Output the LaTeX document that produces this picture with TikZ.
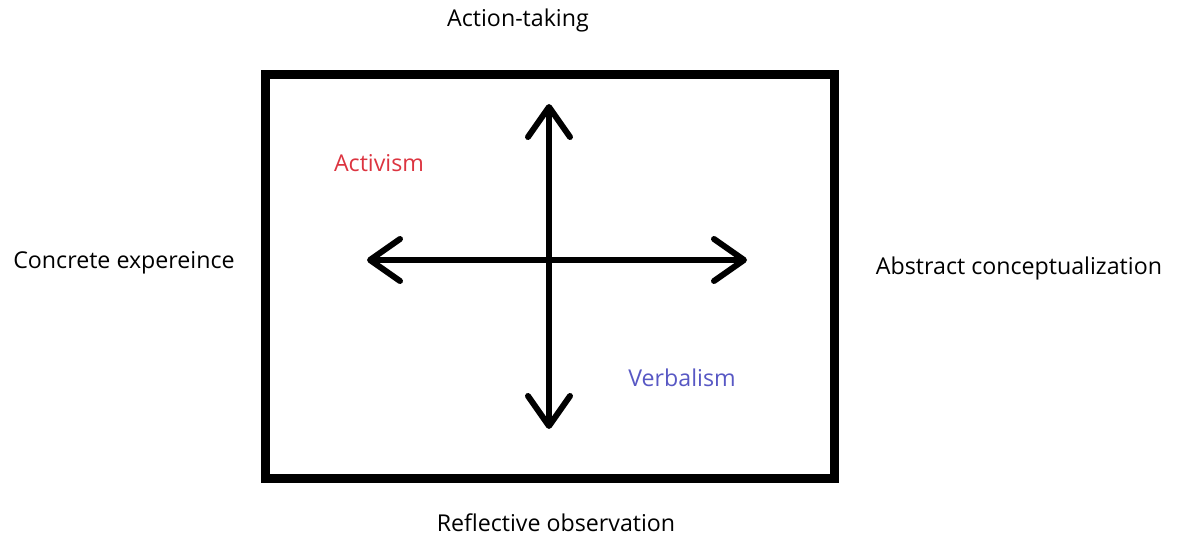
\documentclass[tikz,border=0pt]{standalone}
\usepackage{fontspec}
\setmainfont{Open Sans}
\usepackage{xcolor}
\usetikzlibrary{arrows.meta}

\definecolor{activred}{RGB}{220,52,64}
\definecolor{verbblue}{RGB}{88,88,196}

\begin{document}
\begin{tikzpicture}[x=0.5pt,y=0.5pt,yscale=-1,xscale=1,
		label/.style={inner sep=0.75pt,font=\fontsize{11.6}{14}\selectfont},
		axis/.style={line width=3pt,{Straight Barb[length=15pt,width=21pt,round]}-{Straight Barb[length=15pt,width=21pt,round]}}]
		\useasboundingbox (0,0) rectangle (1178,535);
		
		%Shape: Rectangle 
		\draw [line width=4.5pt] (265.5,74.5) rectangle (834.5,478.5);
		
		% Axis ends
		\coordinate (top) at (549,104);
		\coordinate (bottom) at (549,429);
		\coordinate (left) at (367,260);
		\coordinate (right) at (747,260);
		
		%Arrows 
		\draw [axis] (left) -- (right);
		\draw [axis] (bottom) -- (top);
		
		% Text Node
		\node (action) at (518,20) [label] {Action-taking};
		% Text Node
		\node (concrete) at (124,263) [label] {Concrete expereince};
		% Text Node
		\node (abstract) at (1019,268) [label] {Abstract conceptualization};
		% Text Node
		\node (reflective) at (556,523) [label] {Reflective observation};
		% Text Node
		\node (activism) at (379,163) [label,text=activred] {Activism};
		% Text Node
		\node (verbalism) at (682,378) [label,text=verbblue] {Verbalism};
		
\end{tikzpicture}
\end{document}
